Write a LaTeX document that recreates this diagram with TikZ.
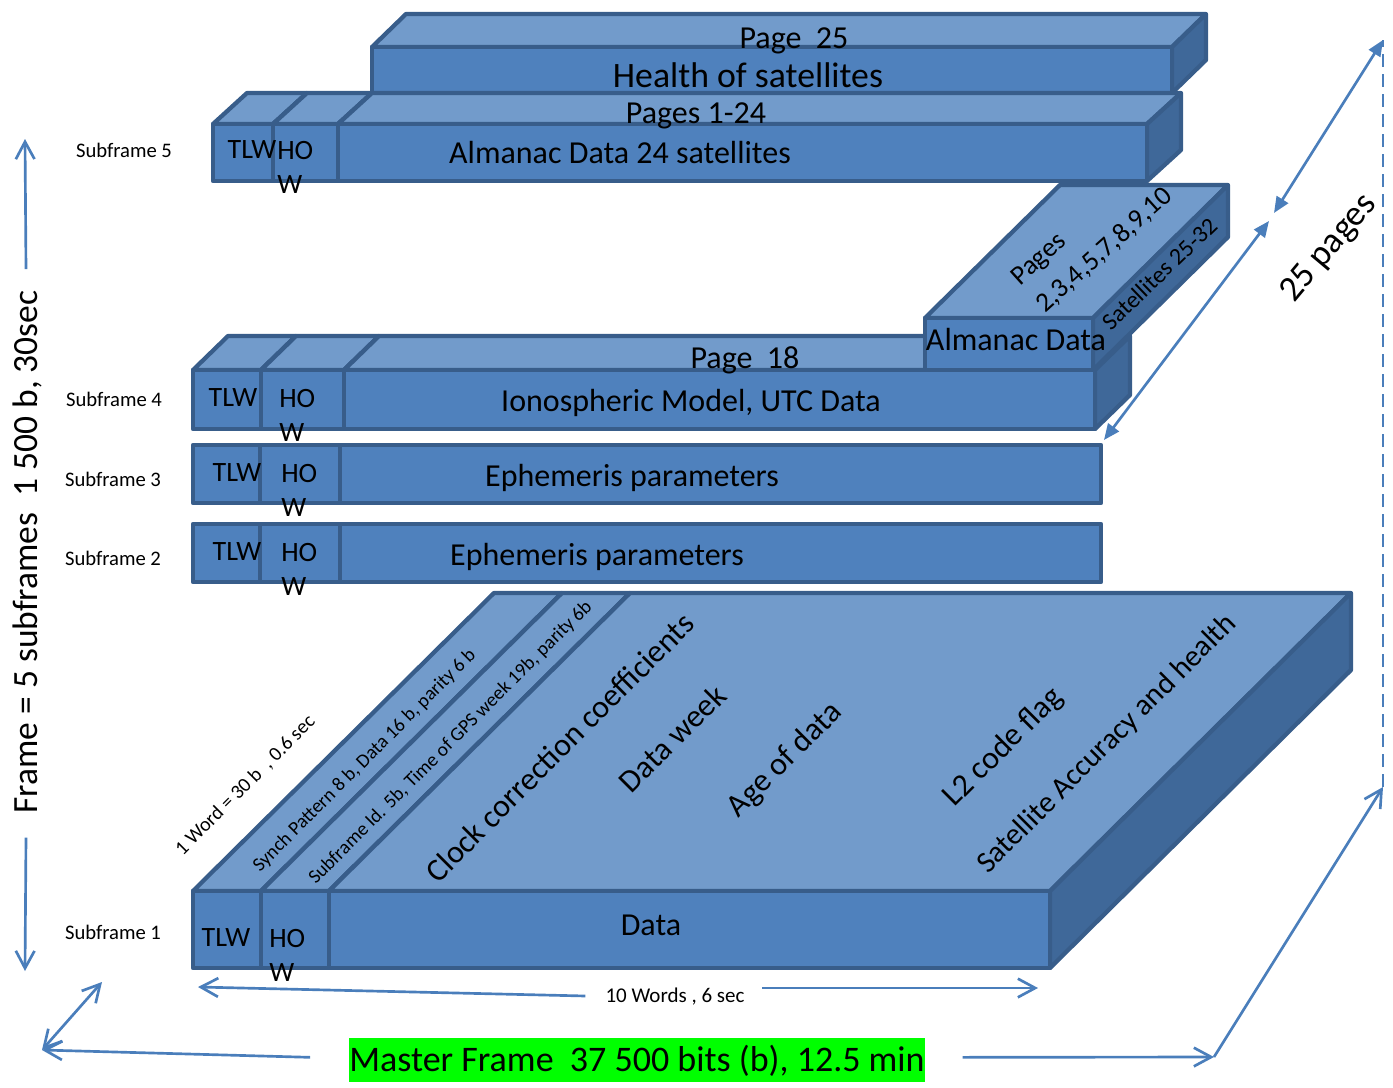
\documentclass[tikz,border=0pt]{standalone}
\usepackage{fontspec}
\setmainfont{Carlito}
\usetikzlibrary{arrows.meta}

\definecolor{frontblue}{RGB}{79,129,189}
\definecolor{topblue}{RGB}{114,155,203}
\definecolor{sideblue}{RGB}{63,104,153}
\definecolor{edgeblue}{RGB}{56,93,138}
\definecolor{arrowblue}{RGB}{74,126,187}
\definecolor{mastergreen}{RGB}{0,255,0}

\tikzset{
  frontface/.style={fill=frontblue, draw=edgeblue, line width=3.2pt, line join=round},
  topface/.style={frontface, fill=topblue},
  sideface/.style={frontface, fill=sideblue},
  lbl/.style={inner sep=0pt, text height=15.2pt, text depth=0pt, font=\fontsize{24}{29}\selectfont},
  biglbl/.style={lbl, text height=16.9pt, font=\fontsize{26.8}{32}\selectfont},
  wordlbl/.style={lbl, text height=13.3pt, font=\fontsize{21}{25.5}\selectfont},
  howlbl/.style={inner sep=0pt, align=left, anchor=north west, font=\fontsize{21}{25.5}\selectfont},
  sublbl/.style={lbl, text height=9.8pt, font=\fontsize{15.5}{18}\selectfont},
  smalldiag/.style={lbl, rotate=45, text height=9.2pt, font=\fontsize{14.6}{17}\selectfont},
  diaglbl/.style={lbl, rotate=45},
  arrowline/.style={draw=arrowblue, line width=2pt},
  openarrow/.style={arrowline, -{Straight Barb[length=13pt,width=14pt]}},
  openboth/.style={arrowline, {Straight Barb[length=13pt,width=14pt]}-{Straight Barb[length=13pt,width=14pt]}},
  solidboth/.style={arrowline, {Triangle[length=12pt,width=10pt]}-{Triangle[length=12pt,width=10pt]}}
}

\begin{document}
\begin{tikzpicture}[x=0.75pt,y=-0.75pt]
  \useasboundingbox (0,0) rectangle (1393,1088);

  % boxes, from back to front: xa/xb/ytop/ybot/depth x/depth y
  \foreach \xa/\xb/\ya/\yb/\dx/\dy in {
    372/1172/47/93/34/-33,
    213/273/124/181/34/-31, 273/338/124/181/34/-31, 338/1147/124/181/34/-31,
    193/261/370/429/35/-34, 261/344/370/429/35/-34, 344/1095/370/429/35/-34,
    925/1093/318/370/135/-133,
    193/261/891/968/301/-298, 261/329/891/968/301/-298, 329/1050/891/968/301/-298}
  {
    \filldraw[topface] (\xa,\ya) -- (\xb,\ya) -- (\xb+\dx,\ya+\dy) -- (\xa+\dx,\ya+\dy) -- cycle;
    \filldraw[sideface] (\xb,\ya) -- (\xb+\dx,\ya+\dy) -- (\xb+\dx,\yb+\dy) -- (\xb,\yb) -- cycle;
    \filldraw[frontface] (\xa,\ya) rectangle (\xb,\yb);
  }
  % flat subframes 3 and 2
  \foreach \ya/\yb in {445/503, 524/582}
    \foreach \xa/\xb in {193/260, 260/340, 340/1101}
      \filldraw[frontface] (\xa,\ya) rectangle (\xb,\yb);

  % page 25
  \node[lbl] (pg25) at (794,38) {Page\ \ 25};
  \node[biglbl] (health) at (748,76) {Health of satellites};

  % subframe 5
  \node[sublbl] (sf5) at (124,151) {Subframe 5};
  \node[wordlbl] (s5tlw) at (252,150) {TLW};
  \node[howlbl] (s5how) at (277,141) {HO\\W};
  \node[lbl] (pg124) at (696,113) {Pages 1-24};
  \node[lbl] (alm24) at (620,153) {Almanac Data 24 satellites};

  % subframe 4
  \node[sublbl] (sf4) at (114,400) {Subframe 4};
  \node[wordlbl] (s4tlw) at (233,398) {TLW};
  \node[howlbl] (s4how) at (279,389) {HO\\W};
  \node[lbl] (pg18) at (745,358) {Page\ \ 18};
  \node[lbl] (iono) at (691,401) {Ionospheric Model, UTC Data};
  \node[lbl] (almdata) at (1016,340) {Almanac Data};
  \node[lbl, rotate=42, align=left, text height=, text depth=, font=\fontsize{20.5}{28}\selectfont] (almpages) at (1092,237) {Pages\\2,3,4,5,7,8,9,10};
  \node[lbl, rotate=44, text height=11.4pt, font=\fontsize{18}{21}\selectfont] (almsat) at (1160,274) {Satellites 25-32};

  % subframe 3
  \node[sublbl] (sf3) at (113,480) {Subframe 3};
  \node[wordlbl] (s3tlw) at (237,473) {TLW};
  \node[howlbl] (s3how) at (281,464) {HO\\W};
  \node[lbl] (eph3) at (632,476) {Ephemeris parameters};

  % subframe 2
  \node[sublbl] (sf2) at (113,559) {Subframe 2};
  \node[wordlbl] (s2tlw) at (237,552) {TLW};
  \node[howlbl] (s2how) at (281,543) {HO\\W};
  \node[lbl] (eph2) at (597,555) {Ephemeris parameters};

  % subframe 1
  \node[sublbl] (sf1) at (113,933) {Subframe 1};
  \node[wordlbl] (s1tlw) at (226,938) {TLW};
  \node[howlbl] (s1how) at (269,929) {HO\\W};
  \node[lbl] (data) at (651,925) {Data};
  \node[smalldiag, text height=9.4pt, font=\fontsize{15}{18}\selectfont] (word) at (245,785) {1 Word = 30 b\ \ , 0.6 sec};
  \node[smalldiag] (synch) at (364,760) {Synch Pattern 8 b, Data 16 b, parity 6 b};
  \node[smalldiag] (sfid) at (450,742) {Subframe Id. 5b, Time of GPS week 19b, parity 6b};
  \node[diaglbl] (clock) at (560,748) {Clock correction coefficients};
  \node[diaglbl] (week) at (673,739) {Data week};
  \node[diaglbl] (age) at (784,759) {Age of data};
  \node[diaglbl] (l2) at (1002,746) {L2 code flag};
  \node[diaglbl, text height=14.3pt, font=\fontsize{22.6}{27}\selectfont] (acc) at (1106,743) {Satellite Accuracy and health};

  % frame length
  \node[lbl, rotate=90, text height=16.8pt, font=\fontsize{26.6}{32}\selectfont] (frame) at (26,552) {Frame = 5 subframes\ \ 1 500 b, 30sec};
  \coordinate (ftop) at (25,139);
  \coordinate (fbot) at (25,971);
  \draw[openarrow] ([yshift=16pt]frame.east) -- (ftop);
  \draw[openarrow] ([yshift=-18pt]frame.west) -- (fbot);

  % words
  \node[lbl, text height=10pt, font=\fontsize{15.75}{19}\selectfont] (words) at (675,996) {10 Words , 6 sec};
  \coordinate (wl) at (198,987);
  \coordinate (wr) at (1038,988);
  \draw[openarrow] ([xshift=-15pt]words.west) -- (wl);
  \draw[openarrow] ([xshift=13pt,yshift=6pt]words.east) -- (wr);

  % master frame
  \node[lbl, text height=17.1pt, font=\fontsize{27}{32}\selectfont, fill=mastergreen,
        minimum width=432pt, minimum height=33pt] (master) at (637,1060) {Master Frame\ \ 37 500 bits (b), 12.5 min};
  \coordinate (mfl) at (42,1050);
  \coordinate (mfb) at (102,982);
  \coordinate (mfr) at (1214,1057);
  \coordinate (mfa) at (1383,787);
  \draw[openarrow] ([xshift=-29pt,yshift=2pt]master.west) -- (mfl);
  \draw[openboth] (mfl) -- (mfb);
  \draw[openarrow] ([xshift=28pt,yshift=2pt]master.east) -- (mfr);
  \draw[openarrow] (mfr) -- (mfa);

  % pages
  \coordinate (pgtop) at (1383,40);
  \coordinate (pgmid1) at (1274,213);
  \coordinate (pgmid2) at (1269,221);
  \coordinate (pgbot) at (1104,440);
  \draw[arrowline, line width=1.5pt, dash pattern=on 10pt off 5pt] (mfa) -- (pgtop);
  \draw[solidboth] (pgmid1) -- (pgtop);
  \draw[solidboth] (pgbot) -- (pgmid2);
  \node[lbl, rotate=50, text height=17pt, font=\fontsize{27}{32}\selectfont] (pages) at (1327,247) {25 pages};
\end{tikzpicture}
\end{document}
